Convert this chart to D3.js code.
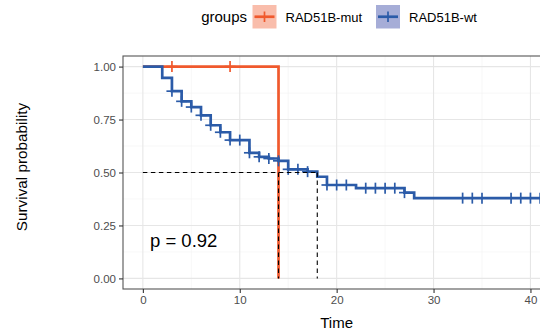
<!DOCTYPE html>
<html>
<head>
<meta charset="utf-8">
<script src="https://cdn.jsdelivr.net/npm/d3@7"></script>
<style>
  html, body { margin: 0; padding: 0; background: #fff; }
  svg { display: block; font-family: "Liberation Sans", Arial, sans-serif; }
</style>
</head>
<body>
<svg id="chart" width="540" height="332"></svg>
<script>
// Kaplan-Meier step curves: drop times and survival level after each drop
const groups = ["RAD51B-mut", "RAD51B-wt"];
const colors = ["#F0592D", "#2B5BA8"];
const keyFills = ["rgba(240,89,45,0.4)", "rgba(43,60,160,0.42)"];

const mutTimes = [0, 14];
const mutSurv = [1, 0];
const mutEnd = 14;
const mutCensor = [3, 9];

const wtTimes = [0, 2, 3, 4, 5, 6, 7, 8, 9, 11, 12, 13, 14, 15, 17, 18, 19, 22, 27, 28];
const wtSurv = [1, 0.947, 0.884, 0.836, 0.809, 0.77, 0.723, 0.69, 0.653, 0.593, 0.574, 0.566,
                0.555, 0.515, 0.504, 0.48, 0.441, 0.426, 0.405, 0.379];
const wtEnd = 41;
const wtCensor = [3, 4, 5, 6, 7, 8, 9, 10, 11, 12, 13, 14, 15, 16, 17, 19, 20, 21,
                  23, 24, 25, 26, 27, 33, 34, 35, 38, 39, 40, 41];

// median survival times (where each curve crosses 0.5)
const medians = [14, 18];
const pValue = "p = 0.92";

const xTicks = [0, 10, 20, 30, 40];
const yTicks = [0, 0.25, 0.5, 0.75, 1];

const svg = d3.select("#chart");
const panel = { left: 123, right: 560, top: 56, bottom: 289 };

const x = d3.scaleLinear().domain([-2.05, 43.05]).range([panel.left, panel.right]);
const y = d3.scaleLinear().domain([-0.05, 1.05]).range([panel.bottom, panel.top]);

// grid
const grid = svg.append("g");
const xMinor = [5, 15, 25, 35];
const yMinor = [0.125, 0.375, 0.625, 0.875];
grid.selectAll(".xminor").data(xMinor).join("line")
  .attr("x1", d => x(d)).attr("x2", d => x(d))
  .attr("y1", panel.top).attr("y2", panel.bottom)
  .attr("stroke", "#f2f2f2").attr("stroke-width", 0.6);
grid.selectAll(".yminor").data(yMinor).join("line")
  .attr("y1", d => y(d)).attr("y2", d => y(d))
  .attr("x1", panel.left).attr("x2", panel.right)
  .attr("stroke", "#f2f2f2").attr("stroke-width", 0.6);
grid.selectAll(".xmajor").data(xTicks).join("line")
  .attr("x1", d => x(d)).attr("x2", d => x(d))
  .attr("y1", panel.top).attr("y2", panel.bottom)
  .attr("stroke", "#e6e6e6").attr("stroke-width", 1.1);
grid.selectAll(".ymajor").data(yTicks).join("line")
  .attr("y1", d => y(d)).attr("y2", d => y(d))
  .attr("x1", panel.left).attr("x2", panel.right)
  .attr("stroke", "#e6e6e6").attr("stroke-width", 1.1);

// survival curves
function stepPoints(times, surv, end) {
  const pts = times.map((t, i) => [t, surv[i]]);
  if (end > times[times.length - 1]) pts.push([end, surv[surv.length - 1]]);
  return pts;
}
function levelAt(times, surv, t) {
  const i = d3.bisectRight(times, t) - 1;
  return surv[Math.max(0, i)];
}
const line = d3.line().x(d => x(d[0])).y(d => y(d[1])).curve(d3.curveStepAfter);

const series = [
  { times: mutTimes, surv: mutSurv, end: mutEnd, censor: mutCensor },
  { times: wtTimes, surv: wtSurv, end: wtEnd, censor: wtCensor }
];

series.forEach((s, k) => {
  const g = svg.append("g");
  g.append("path")
    .attr("d", line(stepPoints(s.times, s.surv, s.end)))
    .attr("fill", "none").attr("stroke", colors[k]).attr("stroke-width", 2.7);
  g.selectAll("g.cens").data(s.censor).join("g")
    .attr("transform", t => `translate(${x(t)},${y(levelAt(s.times, s.surv, t))})`)
    .each(function () {
      const c = d3.select(this);
      c.append("line").attr("x1", 0).attr("x2", 0).attr("y1", -5.5).attr("y2", 5.5)
        .attr("stroke", colors[k]).attr("stroke-width", 1.7);
      c.append("line").attr("x1", -5.5).attr("x2", 5.5).attr("y1", 0).attr("y2", 0)
        .attr("stroke", colors[k]).attr("stroke-width", 1.7);
    });
});

// median lines
const dash = svg.append("g").attr("stroke", "#000").attr("stroke-width", 1.1)
  .attr("stroke-dasharray", "4.5,3.5").attr("fill", "none");
dash.append("line")
  .attr("x1", x(0)).attr("x2", x(d3.max(medians)))
  .attr("y1", y(0.5)).attr("y2", y(0.5));
dash.selectAll("line.v").data(medians).join("line")
  .attr("x1", d => x(d)).attr("x2", d => x(d))
  .attr("y1", y(0.5)).attr("y2", y(0));

// panel border
svg.append("rect")
  .attr("x", panel.left).attr("y", panel.top)
  .attr("width", panel.right - panel.left).attr("height", panel.bottom - panel.top)
  .attr("fill", "none").attr("stroke", "#555").attr("stroke-width", 1.1);

// axes
const xAxis = svg.append("g").attr("transform", `translate(0,${panel.bottom})`)
  .call(d3.axisBottom(x).tickValues(xTicks).tickSize(4).tickPadding(3).tickFormat(d3.format("d")));
const yAxis = svg.append("g").attr("transform", `translate(${panel.left},0)`)
  .call(d3.axisLeft(y).tickValues(yTicks).tickSize(4).tickPadding(3).tickFormat(d3.format(".2f")));
[xAxis, yAxis].forEach(a => {
  a.select(".domain").remove();
  a.selectAll(".tick line").attr("stroke", "#333").attr("stroke-width", 1.1);
  a.selectAll(".tick text").attr("fill", "#4d4d4d").attr("font-size", 11.5)
    .attr("font-family", "Liberation Sans, Arial, sans-serif");
});

// axis titles
svg.append("text").attr("x", x(20)).attr("y", 327.5)
  .attr("text-anchor", "middle").attr("font-size", 15).attr("fill", "#000").text("Time");
svg.append("text").attr("transform", "translate(27,167) rotate(-90)")
  .attr("text-anchor", "middle").attr("font-size", 15.3).attr("fill", "#000").text("Survival probability");

// p-value annotation
svg.append("text").attr("x", 150).attr("y", 247)
  .attr("font-size", 18.5).attr("fill", "#000").text(pValue);

// legend
const legend = svg.append("g");
legend.append("text").attr("x", 247).attr("y", 22).attr("text-anchor", "end")
  .attr("font-size", 15).attr("fill", "#000").text("groups");
const keyX = [252.5, 376];
groups.forEach((name, k) => {
  const kg = legend.append("g").attr("transform", `translate(${keyX[k]},5)`);
  kg.append("rect").attr("width", 24).attr("height", 23.5).attr("fill", keyFills[k]);
  kg.append("line").attr("x1", 2).attr("x2", 22).attr("y1", 11.75).attr("y2", 11.75)
    .attr("stroke", colors[k]).attr("stroke-width", 2.7);
  kg.append("line").attr("x1", 12).attr("x2", 12).attr("y1", 6.5).attr("y2", 17)
    .attr("stroke", colors[k]).attr("stroke-width", 1.7);
  kg.append("text").attr("x", 33).attr("y", 16.8).attr("font-size", 13)
    .attr("fill", "#000").text(name);
});
</script>
</body>
</html>
